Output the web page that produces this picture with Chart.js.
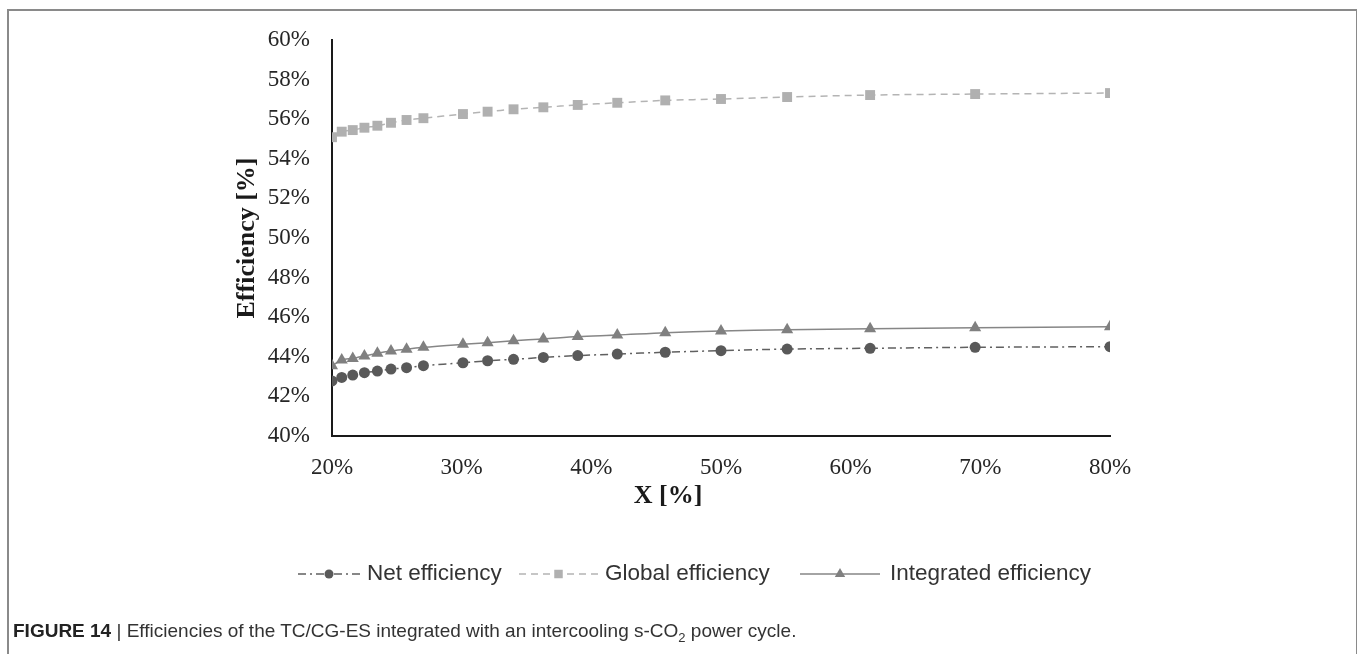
<!DOCTYPE html>
<html>
<head>
<meta charset="utf-8">
<script src="https://cdn.jsdelivr.net/npm/chart.js@4/dist/chart.umd.min.js"></script>
<style>
    html, body { margin: 0; padding: 0; background: #fff; }
    #wrap { position: relative; width: 1357px; height: 654px; overflow: hidden; }
    #frame { position: absolute; left: 7px; top: 9px; width: 1347px; height: 700px;
             border-top: 2px solid #8a8a8a; border-left: 2px solid #8a8a8a; border-right: 2px solid #8a8a8a; }
    #caption { position: absolute; left: 13px; top: 620px; font-family: 'Liberation Sans', sans-serif;
               font-size: 19px; color: #333; white-space: nowrap; }
    #caption b { font-weight: bold; color: #222; }
    canvas { position: absolute; left: 0; top: 0; }
</style>
</head>
<body>
<div id="wrap">
    <div id="frame"></div>
    <canvas id="effChart" width="1357" height="654"></canvas>
    <div id="caption"><b>FIGURE 14</b> | Efficiencies of the TC/CG-ES integrated with an intercooling s-CO<sub style="font-size:13px">2</sub> power cycle.</div>
</div>
<script>
const xValues = [20, 20.75, 21.6, 22.5, 23.5, 24.55, 25.75, 27.05, 30.1, 32, 34, 36.3, 38.95, 42, 45.7, 50, 55.1, 61.5, 69.6, 80];
const netEfficiency = [42.78, 42.96, 43.08, 43.2, 43.28, 43.38, 43.45, 43.55, 43.7, 43.8, 43.87, 43.97, 44.06, 44.14, 44.23, 44.31, 44.39, 44.43, 44.48, 44.51];
const globalEfficiency = [55.09, 55.37, 55.45, 55.57, 55.67, 55.82, 55.96, 56.05, 56.26, 56.38, 56.5, 56.6, 56.72, 56.83, 56.95, 57.02, 57.12, 57.22, 57.27, 57.32];
const integratedEfficiency = [43.55, 43.84, 43.92, 44.04, 44.18, 44.29, 44.38, 44.48, 44.63, 44.71, 44.81, 44.9, 45.02, 45.1, 45.22, 45.3, 45.37, 45.42, 45.47, 45.52];
const seriesNames = ['Net efficiency', 'Global efficiency', 'Integrated efficiency'];
const xTicks = [20, 30, 40, 50, 60, 70, 80];
const yTicks = [40, 42, 44, 46, 48, 50, 52, 54, 56, 58, 60];

function toPoints(values) {
    return values.map((v, i) => ({ x: xValues[i], y: v }));
}

// legend entries: line start/end and text x
const legendSlots = [
    { x1: 298, x2: 360, tx: 367 },
    { x1: 519, x2: 598, tx: 605 },
    { x1: 800, x2: 880, tx: 890 }
];

const titlesAndLegend = {
    id: 'titlesAndLegend',
    afterDraw(chart) {
        const ctx = chart.ctx;
        ctx.save();
        ctx.fillStyle = '#1a1a1a';
        ctx.font = 'bold 26px "Liberation Serif"';
        ctx.textAlign = 'center';
        ctx.textBaseline = 'middle';
        ctx.fillText('X [%]', 668, 496);
        ctx.save();
        ctx.translate(247, 238);
        ctx.rotate(-Math.PI / 2);
        ctx.fillText('Efficiency [%]', 0, 0);
        ctx.restore();

        const ly = 574;
        chart.data.datasets.forEach((ds, i) => {
            const s = legendSlots[i];
            ctx.strokeStyle = ds.borderColor;
            ctx.lineWidth = ds.borderWidth;
            ctx.setLineDash(ds.borderDash || []);
            ctx.beginPath();
            ctx.moveTo(s.x1, ly);
            ctx.lineTo(s.x2, ly);
            ctx.stroke();
            ctx.setLineDash([]);
            ctx.fillStyle = ds.pointBackgroundColor;
            ctx.strokeStyle = ds.pointBorderColor;
            Chart.helpers.drawPoint(ctx, { pointStyle: ds.pointStyle, radius: ds.pointRadius - 1, borderWidth: 0, rotation: 0 }, (s.x1 + s.x2) / 2, ly);
            ctx.fillStyle = '#333';
            ctx.font = '22.5px "Liberation Sans"';
            ctx.textAlign = 'left';
            ctx.fillText(ds.label, s.tx, ly);
        });
        ctx.restore();
    }
};

const ctx = document.getElementById('effChart').getContext('2d');
new Chart(ctx, {
    type: 'line',
    data: {
        datasets: [{
            label: seriesNames[0],
            data: toPoints(netEfficiency),
            borderColor: '#606060',
            borderWidth: 1.5,
            borderDash: [8, 4, 2, 4],
            pointStyle: 'circle',
            pointRadius: 5.5,
            pointBackgroundColor: '#595959',
            pointBorderColor: '#595959',
            pointBorderWidth: 0,
            tension: 0.3
        }, {
            label: seriesNames[1],
            data: toPoints(globalEfficiency),
            borderColor: '#b4b4b4',
            borderWidth: 1.5,
            borderDash: [7, 5],
            pointStyle: 'rect',
            pointRadius: 7,
            pointBackgroundColor: '#b0b0b0',
            pointBorderColor: '#b0b0b0',
            pointBorderWidth: 0,
            tension: 0.3
        }, {
            label: seriesNames[2],
            data: toPoints(integratedEfficiency),
            borderColor: '#868686',
            borderWidth: 1.5,
            pointStyle: 'triangle',
            pointRadius: 7,
            pointBackgroundColor: '#808080',
            pointBorderColor: '#808080',
            pointBorderWidth: 0,
            tension: 0.3
        }]
    },
    options: {
        responsive: false,
        animation: false,
        layout: { padding: { left: 0, top: 40, right: 247, bottom: 0 } },
        plugins: {
            legend: { display: false },
            tooltip: { enabled: false }
        },
        scales: {
            x: {
                type: 'linear',
                min: 20,
                max: 80,
                afterBuildTicks: scale => { scale.ticks = xTicks.map(v => ({ value: v })); },
                afterFit: scale => { scale.height = 218; },
                grid: { display: false, drawTicks: false },
                border: { display: true, color: '#1a1a1a', width: 2 },
                ticks: {
                    padding: 18,
                    color: '#262626',
                    font: { family: 'Liberation Serif', size: 23 },
                    callback: v => v + '%'
                }
            },
            y: {
                type: 'linear',
                min: 40,
                max: 60,
                afterBuildTicks: scale => { scale.ticks = yTicks.map(v => ({ value: v })); },
                afterFit: scale => { scale.width = 332; },
                grid: { display: false, drawTicks: false },
                border: { display: true, color: '#1a1a1a', width: 2 },
                ticks: {
                    padding: 22,
                    color: '#262626',
                    font: { family: 'Liberation Serif', size: 23 },
                    callback: v => v + '%'
                }
            }
        }
    },
    plugins: [titlesAndLegend]
});
</script>
</body>
</html>
